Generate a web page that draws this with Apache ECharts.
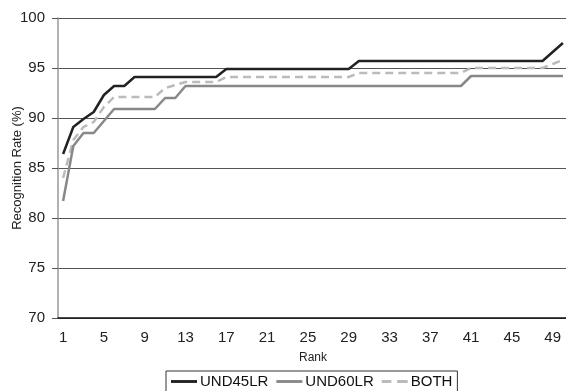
<!DOCTYPE html>
<html>
<head>
<meta charset="utf-8">
<script src="https://cdn.jsdelivr.net/npm/echarts@6/dist/echarts.min.js"></script>
<style>
  html, body { margin: 0; padding: 0; background: #fff; }
  #chart { width: 566px; height: 391px; }
</style>
</head>
<body>
<div id="chart"></div>
<script>
// rank 1..50
const ranks = [
  '1', '2', '3', '4', '5', '6', '7', '8', '9', '10',
  '11', '12', '13', '14', '15', '16', '17', '18', '19', '20',
  '21', '22', '23', '24', '25', '26', '27', '28', '29', '30',
  '31', '32', '33', '34', '35', '36', '37', '38', '39', '40',
  '41', '42', '43', '44', '45', '46', '47', '48', '49', '50'
]

const und45lr = [
  86.4, 89.1, 89.9, 90.6, 92.3, 93.2, 93.2, 94.1, 94.1, 94.1,
  94.1, 94.1, 94.1, 94.1, 94.1, 94.1, 94.9, 94.9, 94.9, 94.9,
  94.9, 94.9, 94.9, 94.9, 94.9, 94.9, 94.9, 94.9, 94.9, 95.7,
  95.7, 95.7, 95.7, 95.7, 95.7, 95.7, 95.7, 95.7, 95.7, 95.7,
  95.7, 95.7, 95.7, 95.7, 95.7, 95.7, 95.7, 95.7, 96.6, 97.5
]

const und60lr = [
  81.7, 87.2, 88.5, 88.5, 89.7, 90.9, 90.9, 90.9, 90.9, 90.9,
  92.0, 92.0, 93.2, 93.2, 93.2, 93.2, 93.2, 93.2, 93.2, 93.2,
  93.2, 93.2, 93.2, 93.2, 93.2, 93.2, 93.2, 93.2, 93.2, 93.2,
  93.2, 93.2, 93.2, 93.2, 93.2, 93.2, 93.2, 93.2, 93.2, 93.2,
  94.2, 94.2, 94.2, 94.2, 94.2, 94.2, 94.2, 94.2, 94.2, 94.2
]

const both = [
  84.0, 87.8, 89.1, 89.6, 91.1, 92.1, 92.1, 92.1, 92.1, 92.1,
  93.0, 93.3, 93.6, 93.6, 93.6, 93.6, 94.1, 94.1, 94.1, 94.1,
  94.1, 94.1, 94.1, 94.1, 94.1, 94.1, 94.1, 94.1, 94.1, 94.5,
  94.5, 94.5, 94.5, 94.5, 94.5, 94.5, 94.5, 94.5, 94.5, 94.5,
  95.0, 95.0, 95.0, 95.0, 95.0, 95.0, 95.0, 95.0, 95.4, 95.8
]

const font = 'Liberation Sans, Arial, sans-serif'
const solidIcon = 'path://M0,0h27v3h-27z'
const dashIcon = 'path://M0,0h10v3h-10z M16,0h11v3h-11z'

const chart = echarts.init(document.getElementById('chart'))

chart.setOption({
  animation: false,
  backgroundColor: '#fff',
  textStyle: { fontFamily: font },
  grid: {
    left: 58, top: 18, width: 510, height: 300,
    containLabel: false,
    outerBoundsMode: 'none'
  },
  legend: {
    left: 166,
    top: 371,
    itemWidth: 26,
    itemHeight: 3,
    itemGap: 8,
    padding: [3, 5, 6, 5],
    borderColor: '#333',
    borderWidth: 1,
    textStyle: { fontSize: 15, color: '#111', fontFamily: font, padding: [0, 0, 0, -2] },
    data: [
      { name: 'UND45LR', icon: solidIcon },
      { name: 'UND60LR', icon: solidIcon },
      { name: 'BOTH', icon: dashIcon }
    ]
  },
  xAxis: {
    type: 'category',
    data: ranks,
    boundaryGap: true,
    name: 'Rank',
    nameLocation: 'middle',
    nameGap: 34,
    nameMoveOverlap: false,
    nameTextStyle: { fontSize: 12, color: '#222', fontFamily: font },
    axisLine: { lineStyle: { color: '#111', width: 1.5 } },
    axisTick: { interval: 1, length: 5, lineStyle: { color: '#333' } },
    axisLabel: { interval: 3, fontSize: 15, color: '#222', margin: 12, fontFamily: font },
    splitLine: { show: false }
  },
  yAxis: {
    type: 'value',
    min: 70,
    max: 100,
    interval: 5,
    name: 'Recognition Rate (%)',
    nameLocation: 'middle',
    nameGap: 34,
    nameRotate: 90,
    nameMoveOverlap: false,
    nameTextStyle: { fontSize: 13, color: '#222', fontFamily: font },
    axisLine: { show: true, lineStyle: { color: '#999', width: 1.5 } },
    axisTick: { show: true, length: 6, lineStyle: { color: '#555' } },
    axisLabel: { fontSize: 15, color: '#222', margin: 13, fontFamily: font },
    splitLine: { show: true, lineStyle: { color: '#555', width: 1 } }
  },
  series: [
    {
      name: 'UND45LR',
      type: 'line',
      data: und45lr,
      symbol: 'none',
      z: 4,
      lineStyle: { color: '#222', width: 2.5 },
      itemStyle: { color: '#222' }
    },
    {
      name: 'UND60LR',
      type: 'line',
      data: und60lr,
      symbol: 'none',
      z: 3,
      lineStyle: { color: '#888', width: 2.5 },
      itemStyle: { color: '#888' }
    },
    {
      name: 'BOTH',
      type: 'line',
      data: both,
      symbol: 'none',
      z: 2,
      lineStyle: { color: '#bbb', width: 2.5, type: [8, 5] },
      itemStyle: { color: '#bbb' }
    }
  ]
})
</script>
</body>
</html>
